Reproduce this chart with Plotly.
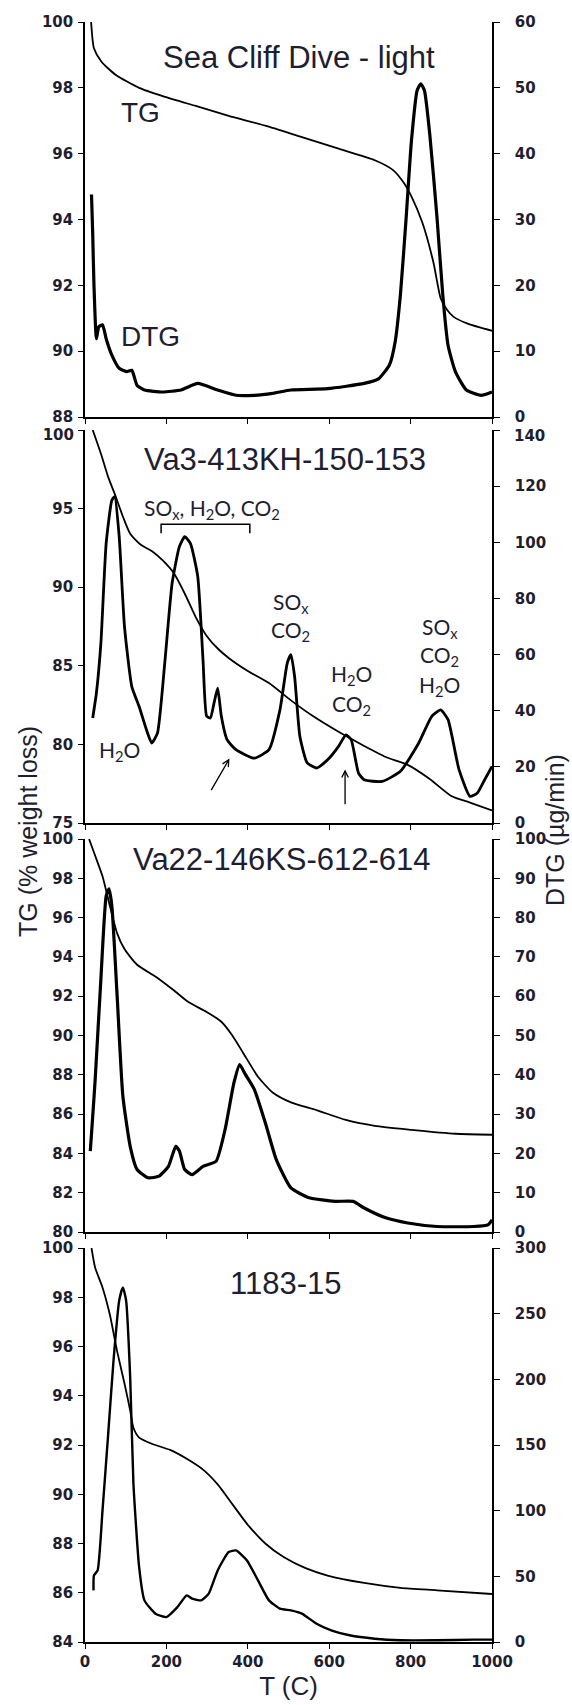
import plotly.graph_objects as go

# ---------------- data ----------------
# Panel 1: Sea Cliff Dive - light
p1_tg_T = [15, 22, 40, 75, 133, 191, 272, 353, 443, 533, 623, 712, 757, 784, 802, 829, 856, 874, 890, 905, 937, 970, 1000]
p1_tg = [100.0, 99.2, 98.8, 98.4, 98.0, 97.75, 97.45, 97.15, 96.85, 96.5, 96.15, 95.8, 95.5, 95.1, 94.7, 93.9, 92.7, 91.6, 91.25, 91.05, 90.85, 90.72, 90.62]
p1_dtg_T = [16, 19, 22, 28, 34, 43, 52, 66, 84, 102, 115, 128, 146, 191, 236, 277, 326, 371, 416, 461, 506, 596, 686, 721, 748, 762, 775, 789, 802, 816, 825, 834, 847, 865, 879, 892, 910, 937, 973, 1000]
p1_dtg = [33.8, 27.7, 20.1, 11.9, 13.7, 14.0, 11.9, 9.4, 7.4, 6.9, 7.1, 4.8, 4.1, 3.8, 4.1, 5.1, 4.1, 3.3, 3.3, 3.6, 4.1, 4.3, 5.1, 5.8, 7.9, 11.4, 18.6, 30.2, 41.9, 49.6, 50.6, 49.6, 43.0, 30.2, 18.6, 10.9, 6.9, 4.1, 3.3, 3.8]

# Panel 2: Va3-413KH-150-153
p2_tg_T = [19, 39, 57, 75, 93, 111, 137, 164, 191, 218, 245, 272, 299, 326, 353, 398, 452, 506, 560, 623, 686, 739, 793, 847, 901, 946, 1000]
p2_tg = [100.0, 98.5, 97.0, 95.8, 94.5, 93.4, 92.7, 92.3, 91.7, 90.9, 89.6, 88.1, 86.9, 86.1, 85.5, 84.7, 83.9, 82.8, 81.8, 80.8, 79.9, 79.2, 78.7, 77.8, 76.7, 76.3, 75.8]
p2_dtg_T = [19, 28, 39, 52, 66, 73, 84, 97, 115, 133, 151, 164, 178, 196, 214, 232, 245, 259, 277, 290, 299, 308, 317, 326, 335, 349, 371, 416, 452, 479, 497, 506, 515, 528, 546, 569, 596, 623, 641, 654, 672, 686, 730, 775, 820, 852, 874, 892, 919, 946, 964, 982, 1000]
p2_dtg = [37.4, 46.3, 64.0, 99.6, 115.0, 116.3, 102.0, 70.0, 48.6, 41.5, 33.2, 28.5, 32.0, 57.0, 85.4, 98.5, 102.0, 99.6, 87.8, 58.0, 38.0, 37.4, 42.7, 48.0, 38.0, 29.7, 26.1, 23.1, 26.1, 40.3, 57.0, 60.0, 52.2, 30.8, 21.4, 19.6, 22.5, 27.3, 31.4, 29.7, 17.8, 15.4, 14.8, 18.4, 28.5, 38.0, 40.3, 36.8, 19.0, 9.5, 10.7, 15.4, 20.2]

# Panel 3: Va22-146KS-612-614
p3_tg_T = [10, 25, 43, 61, 79, 97, 128, 173, 218, 254, 299, 335, 362, 389, 425, 461, 506, 569, 641, 712, 802, 910, 1000]
p3_tg = [100.0, 99.15, 98.1, 96.6, 95.2, 94.4, 93.6, 93.0, 92.3, 91.7, 91.2, 90.7, 90.0, 89.1, 87.9, 87.1, 86.6, 86.2, 85.7, 85.4, 85.2, 85.0, 84.95]
p3_dtg_T = [13, 19, 25, 39, 52, 59, 66, 79, 93, 111, 128, 155, 182, 205, 223, 232, 245, 263, 290, 322, 344, 366, 380, 394, 416, 443, 470, 506, 551, 614, 659, 686, 739, 793, 865, 955, 991, 1000]
p3_dtg = [20.6, 29.5, 38.8, 64.3, 85.5, 87.3, 83.0, 60.0, 34.6, 21.8, 15.9, 13.8, 14.2, 16.7, 21.8, 20.6, 15.9, 14.6, 16.7, 18.0, 26.0, 38.0, 42.6, 40.1, 36.3, 27.8, 18.4, 11.2, 8.7, 7.8, 7.8, 6.1, 3.6, 2.3, 1.4, 1.4, 1.9, 3.1]

# Panel 4: 1183-15
p4_tg_T = [16, 25, 43, 61, 79, 97, 111, 119, 133, 164, 209, 254, 290, 326, 362, 398, 443, 488, 542, 596, 686, 775, 865, 1000]
p4_tg = [100.0, 99.2, 98.4, 97.3, 95.8, 94.5, 93.4, 92.7, 92.3, 92.05, 91.8, 91.4, 91.0, 90.4, 89.6, 88.8, 88.0, 87.45, 87.0, 86.7, 86.4, 86.2, 86.1, 85.95]
p4_dtg_T = [21, 22, 31, 43, 57, 70, 84, 93, 101, 111, 119, 133, 146, 173, 200, 227, 250, 263, 286, 304, 326, 353, 371, 398, 425, 452, 479, 506, 533, 569, 605, 650, 712, 775, 865, 955, 1000]
p4_dtg = [39.3, 50.7, 54.5, 100.0, 158.5, 214.0, 260.0, 270.0, 260.0, 201.6, 120.5, 57.0, 31.7, 21.6, 19.0, 26.6, 35.5, 33.0, 31.7, 36.8, 54.5, 68.5, 69.7, 62.1, 46.9, 31.7, 25.4, 24.1, 21.6, 13.9, 8.9, 5.1, 2.5, 1.3, 1.3, 1.8, 1.8]

titles = ["Sea Cliff Dive - light", "Va3-413KH-150-153", "Va22-146KS-612-614", "1183-15"]
left_ranges = [(88, 100, 2), (75, 100, 5), (80, 100, 2), (84, 100, 2)]
right_ranges = [(0, 60, 10), (0, 140, 20), (0, 100, 10), (0, 300, 50)]
x_ticks = [0, 200, 400, 600, 800, 1000]

# ---------------- layout geometry ----------------
W, H = 572, 1705
ML, MR, MT, MB = 85, 80, 22, 63
PH = H - MT - MB
PW = W - ML - MR
panel_px = [(22, 417), (430, 823), (839, 1232), (1248, 1642)]


def ydom(top, bot):
    return [(H - MB - bot) / PH, (H - MB - top) / PH]


TXT = "#1e1e30"
tickfont = dict(family="DejaVu Sans", size=15, color=TXT, weight="bold")
LSTAND, RSTAND = 2, 12

fig = go.Figure()
series = [
    (p1_tg_T, p1_tg, p1_dtg_T, p1_dtg),
    (p2_tg_T, p2_tg, p2_dtg_T, p2_dtg),
    (p3_tg_T, p3_tg, p3_dtg_T, p3_dtg),
    (p4_tg_T, p4_tg, p4_dtg_T, p4_dtg),
]
dtg_w = [3.2, 2.8, 3.2, 2.4]
for i, (tT, tg, dT, dtg) in enumerate(series):
    xa = "x" if i == 0 else f"x{i+1}"
    yl = "y" if i == 0 else f"y{2*i+1}"
    yr = f"y{2*i+2}"
    fig.add_trace(go.Scatter(x=tT, y=tg, xaxis=xa, yaxis=yl, mode="lines",
                             line=dict(color="black", width=1.8, shape="spline", smoothing=0.6),
                             showlegend=False, hoverinfo="skip"))
    fig.add_trace(go.Scatter(x=dT, y=dtg, xaxis=xa, yaxis=yr, mode="lines",
                             line=dict(color="black", width=dtg_w[i], shape="spline", smoothing=0.5),
                             showlegend=False, hoverinfo="skip"))

# empty traces so that the extra label axes of panel 2 are drawn
fig.add_trace(go.Scatter(x=[], y=[], xaxis="x2", yaxis="y9", mode="lines", showlegend=False, hoverinfo="skip"))
fig.add_trace(go.Scatter(x=[], y=[], xaxis="x2", yaxis="y10", mode="lines", showlegend=False, hoverinfo="skip"))

layout = dict(width=W, height=H, margin=dict(l=ML, r=MR, t=MT, b=MB, autoexpand=False),
              paper_bgcolor="white", plot_bgcolor="white", showlegend=False)

for i in range(4):
    xk = "xaxis" if i == 0 else f"xaxis{i+1}"
    ylk = "yaxis" if i == 0 else f"yaxis{2*i+1}"
    yrk = f"yaxis{2*i+2}"
    yl = "y" if i == 0 else f"y{2*i+1}"
    xa = "x" if i == 0 else f"x{i+1}"
    dom = ydom(*panel_px[i])
    layout[xk] = dict(domain=[0, 1], anchor=yl, range=[0, 1000], tickvals=x_ticks,
                      ticks="outside", ticklen=5, tickwidth=1.2, tickcolor="black",
                      showline=True, linecolor="black", linewidth=1.6, automargin=False,
                      showgrid=False, zeroline=False, showticklabels=(i == 3),
                      tickfont=tickfont, ticklabelstandoff=0,
                      title=dict(text="T (C)", font=dict(family="Liberation Sans", size=26, color=TXT), standoff=2) if i == 3 else None)
    lo, hi, st = left_ranges[i]
    lvals = list(range(lo, hi + 1, st))
    ltext = [str(v) for v in lvals]
    rlo, rhi, rst = right_ranges[i]
    rvals = list(range(rlo, rhi + 1, rst))
    rtext = [str(v) for v in rvals]
    if i == 1:
        # top labels of this panel are drawn slightly lower (see extra axes below)
        ltext[-1] = ""
        rtext[-1] = ""
    layout[ylk] = dict(domain=dom, anchor=xa, range=[lo, hi], tickvals=lvals, ticktext=ltext,
                       ticks="outside", ticklen=5, tickwidth=1.2, tickcolor="black",
                       showline=True, linecolor="black", linewidth=1.6, automargin=False,
                       showgrid=False, zeroline=False, tickfont=tickfont, ticklabelstandoff=LSTAND)
    layout[yrk] = dict(overlaying=yl, side="right", anchor=xa, range=[rlo, rhi],
                       tickvals=rvals, ticktext=rtext,
                       ticks="outside", ticklen=6, tickwidth=1.2, tickcolor="black",
                       showline=True, linecolor="black", linewidth=1.6, automargin=False,
                       showgrid=False, zeroline=False, tickfont=tickfont, ticklabelstandoff=RSTAND)

# top border of first panel with inward ticks
layout["xaxis5"] = dict(overlaying="x", anchor="y", side="top", range=[0, 1000], tickvals=x_ticks,
                        ticks="inside", ticklen=4, tickwidth=1.2, tickcolor="black",
                        showline=True, linecolor="black", linewidth=1.6, automargin=False,
                        showgrid=False, zeroline=False, showticklabels=False)

# top tick labels of panel 2, nudged down like in the original
lo, hi, st = left_ranges[1]
layout["yaxis9"] = dict(overlaying="y3", side="left", anchor="x2", range=[lo, hi], tickvals=[hi],
                        ticks="outside", ticklen=5, tickwidth=1.2, tickcolor="black", automargin=False,
                        showline=False, showgrid=False, zeroline=False, tickfont=tickfont,
                        ticklabelstandoff=LSTAND, ticklabelshift=5)
rlo, rhi, rst = right_ranges[1]
layout["yaxis10"] = dict(overlaying="y3", side="right", anchor="x2", range=[rlo, rhi], tickvals=[rhi],
                         ticks="outside", ticklen=6, tickwidth=1.2, tickcolor="black", automargin=False,
                         showline=False, showgrid=False, zeroline=False, tickfont=tickfont,
                         ticklabelstandoff=RSTAND, ticklabelshift=6)

fig.update_layout(**layout)

TF = "Liberation Sans"
AF = "Lato"
ann = []
# panel titles
title_pos = [(526, 98.93, "y"), (492, 98.1, "y3"), (483, 98.98, "y5"), (492, 98.54, "y7")]
xrefs = ["x", "x2", "x3", "x4"]
for i, (tx, ty, yr) in enumerate(title_pos):
    ann.append(dict(x=tx, y=ty, xref=xrefs[i], yref=yr, text=titles[i], showarrow=False,
                    font=dict(family=TF, size=31, color=TXT)))
# TG / DTG labels panel 1
ann.append(dict(x=137, y=97.25, xref="x", yref="y", text="TG", showarrow=False,
                font=dict(family=TF, size=28, color=TXT)))
ann.append(dict(x=160, y=90.44, xref="x", yref="y", text="DTG", showarrow=False,
                font=dict(family=TF, size=28, color=TXT)))
# panel 2 species annotations
sp = dict(family=AF, size=21, color=TXT)
ann.append(dict(x=313, y=95.0, xref="x2", yref="y3", text="SO<sub>x</sub>, H<sub>2</sub>O, CO<sub>2</sub>",
                showarrow=False, font=sp))
for tx, ty, tt in [(506, 89.0, "SO<sub>x</sub>"), (506, 87.2, "CO<sub>2</sub>"),
                   (654, 84.4, "H<sub>2</sub>O"), (654, 82.5, "CO<sub>2</sub>"),
                   (872, 87.4, "SO<sub>x</sub>"), (872, 85.6, "CO<sub>2</sub>"), (872, 83.7, "H<sub>2</sub>O"),
                   (84, 79.55, "H<sub>2</sub>O")]:
    ann.append(dict(x=tx, y=ty, xref="x2", yref="y3", text=tt, showarrow=False, font=sp))
# arrows
ann.append(dict(x=355, y=79.1, ax=308, ay=77.0, xref="x2", yref="y3", axref="x2", ayref="y3",
                text="", showarrow=True, arrowhead=5, arrowsize=1, arrowwidth=1.3, arrowcolor="black"))
ann.append(dict(x=639, y=78.4, ax=639, ay=76.1, xref="x2", yref="y3", axref="x2", ayref="y3",
                text="", showarrow=True, arrowhead=5, arrowsize=1, arrowwidth=1.3, arrowcolor="black"))
# axis titles
ann.append(dict(x=(28 - ML) / PW, y=(H - MB - 832) / PH, xref="paper", yref="paper",
                xanchor="center", yanchor="middle",
                text="TG (% weight loss)", textangle=-90, showarrow=False,
                font=dict(family=TF, size=25, color=TXT)))
ann.append(dict(x=(555 - ML) / PW, y=(H - MB - 830) / PH, xref="paper", yref="paper",
                xanchor="center", yanchor="middle",
                text="DTG (µg/min)", textangle=-90, showarrow=False,
                font=dict(family=TF, size=25, color=TXT)))

fig.update_layout(annotations=ann)

# bracket over the second and third peaks of panel 2
fig.add_shape(type="path", xref="x2", yref="y3",
              path="M 187,93.43 L 187,94.0 L 405,94.0 L 405,93.43",
              line=dict(color="black", width=1.5))

fig.write_html("out.html")
